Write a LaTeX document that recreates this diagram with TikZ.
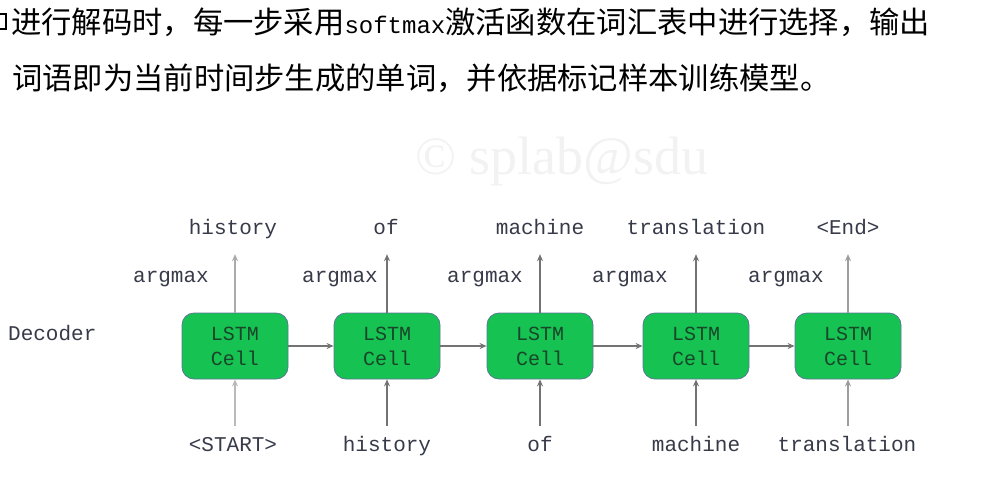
\documentclass[tikz,border=0pt]{standalone}
\usepackage{fontspec}
\usetikzlibrary{arrows.meta}
\newfontfamily\cjk{Noto Sans CJK SC}
\newfontfamily\lbmono{Liberation Mono}
\newfontfamily\wmfont{Liberation Serif}
\definecolor{cellgreen}{RGB}{22,194,82}
\definecolor{cellborder}{RGB}{90,120,150}
\definecolor{celltext}{RGB}{25,70,40}
\definecolor{wordgray}{RGB}{55,58,72}
\definecolor{arrgray}{RGB}{115,115,115}
\tikzset{
    cell/.style={draw=cellborder, line width=0.8pt, fill=cellgreen, rounded corners=12pt,
        minimum width=106pt, minimum height=66pt, align=center, text=celltext,
        font=\lbmono\fontsize{20}{25}\selectfont},
    word/.style={text=wordgray, font=\lbmono\fontsize{21}{25}\selectfont,
        text height=15pt, text depth=5pt, inner sep=3pt},
    conn/.style={draw=arrgray, line width=1.1pt, -{Stealth[length=7pt,width=6pt]}}
}
\begin{document}
\begin{tikzpicture}[x=1pt,y=-1pt]
    \useasboundingbox (0,0) rectangle (982,491);
    % heading text
    \draw[line width=2.2pt] (-5,14) rectangle (6,29);
    \node[anchor=west, inner sep=0pt, font=\cjk\fontsize{30.3}{34}\selectfont] (line1) at (11,22)
        {进行解码时，每一步采用{\lbmono\fontsize{24}{30}\selectfont softmax}激活函数在词汇表中进行选择，输出};
    \node[anchor=west, inner sep=0pt, font=\cjk\fontsize{30.3}{34}\selectfont] (line2) at (12,78)
        {词语即为当前时间步生成的单词，并依据标记样本训练模型。};
    \node[text=gray!10, font=\wmfont\fontsize{54}{58}\selectfont] (mark) at (562,162) {© splab@sdu};
    % decoder cells
    \node[anchor=west, word] (dec) at (5,335) {Decoder};
    \node[cell] (c1) at (235,346) {LSTM\\Cell};
    \node[cell] (c2) at (387,346) {LSTM\\Cell};
    \node[cell] (c3) at (540,346) {LSTM\\Cell};
    \node[cell] (c4) at (696,346) {LSTM\\Cell};
    \node[cell] (c5) at (848,346) {LSTM\\Cell};
    \draw[conn] (c1) -- (c2);
    \draw[conn] (c2) -- (c3);
    \draw[conn] (c3) -- (c4);
    \draw[conn] (c4) -- (c5);
    % outputs
    \node[word] (o1) at (233,229) {history};
    \node[word] (o2) at (386,229) {of};
    \node[word] (o3) at (540,229) {machine};
    \node[word] (o4) at (696,229) {translation};
    \node[word] (o5) at (848,229) {<End>};
    \node[word] (a1) at (171,277) {argmax};
    \node[word] (a2) at (340,277) {argmax};
    \node[word] (a3) at (485,277) {argmax};
    \node[word] (a4) at (630,277) {argmax};
    \node[word] (a5) at (786,277) {argmax};
    \draw[conn, draw=arrgray!60, shorten >=12pt] (c1.north) -- (o1.south -| c1.north);
    \draw[conn, shorten >=12pt] (c2.north) -- (o2.south -| c2.north);
    \draw[conn, shorten >=12pt] (c3.north) -- (o3.south -| c3.north);
    \draw[conn, shorten >=12pt] (c4.north) -- (o4.south -| c4.north);
    \draw[conn, draw=arrgray!70, shorten >=12pt] (c5.north) -- (o5.south -| c5.north);
    % inputs
    \node[word] (i1) at (233,446) {<START>};
    \node[word] (i2) at (387,446) {history};
    \node[word] (i3) at (540,446) {of};
    \node[word] (i4) at (696,446) {machine};
    \node[word] (i5) at (847,446) {translation};
    \draw[conn, draw=arrgray!50, shorten <=7pt] (i1.north -| c1.south) -- (c1.south);
    \draw[conn, shorten <=7pt] (i2.north -| c2.south) -- (c2.south);
    \draw[conn, shorten <=7pt] (i3.north -| c3.south) -- (c3.south);
    \draw[conn, shorten <=7pt] (i4.north -| c4.south) -- (c4.south);
    \draw[conn, draw=arrgray!70, shorten <=7pt] (i5.north -| c5.south) -- (c5.south);
\end{tikzpicture}
\end{document}
